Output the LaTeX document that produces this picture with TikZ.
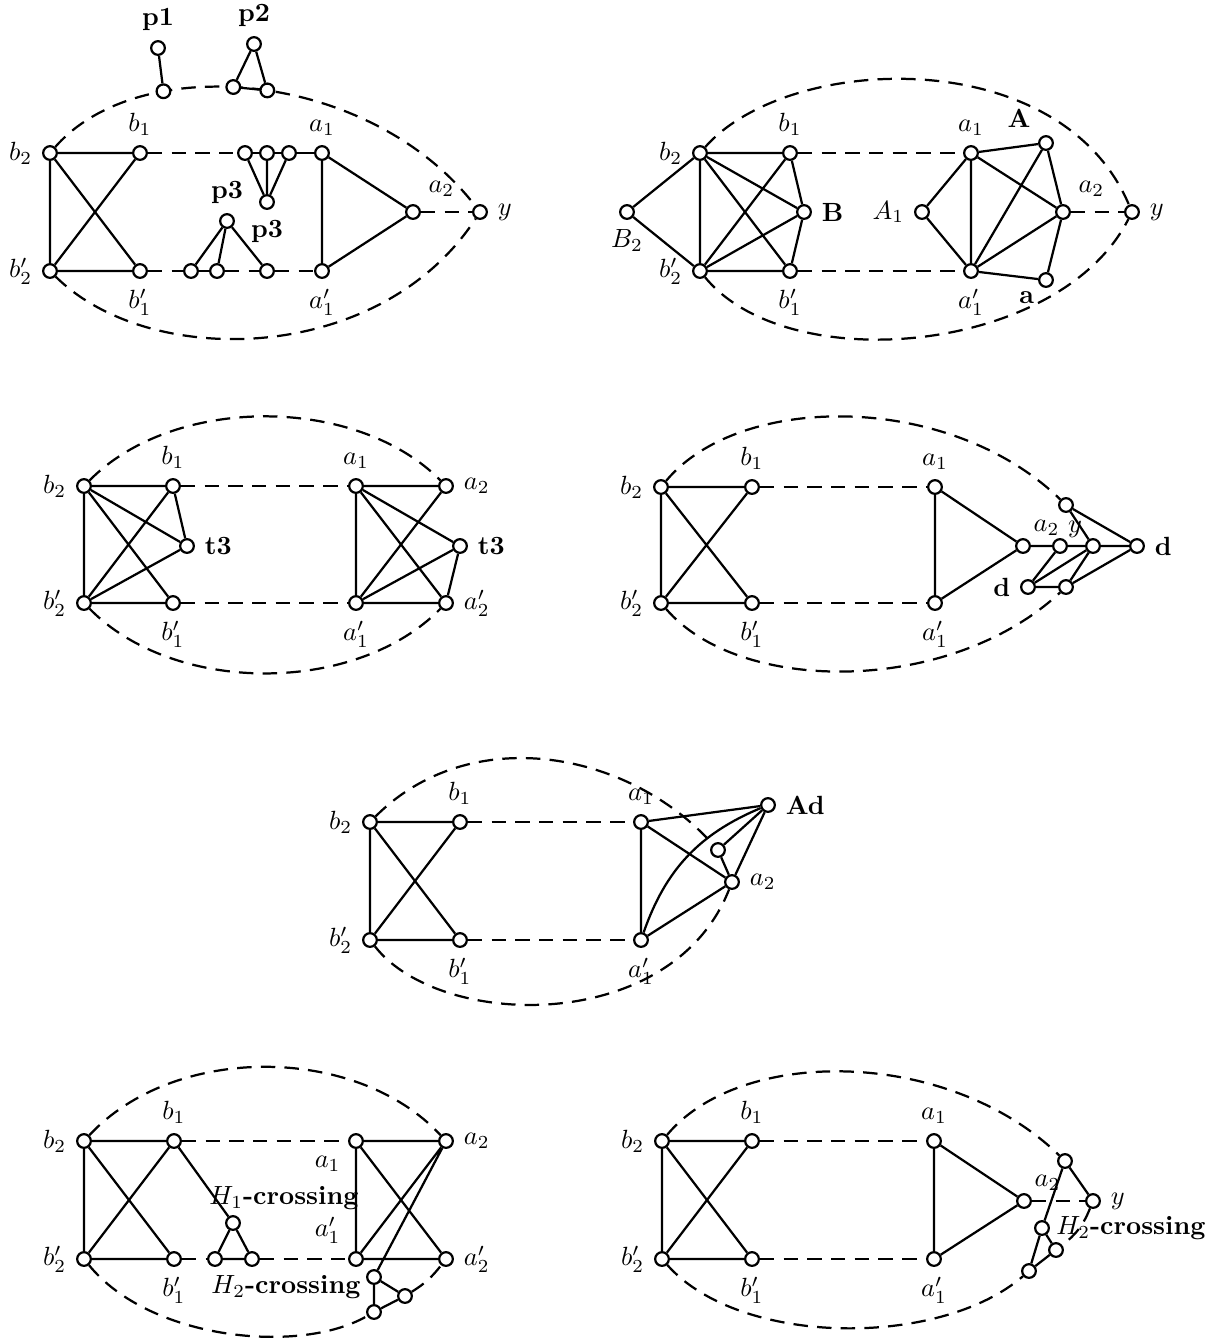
\documentclass[tikz,border=0pt]{standalone}
\begin{document}
\begin{tikzpicture}[x=0.38pt,y=0.38pt,line width=0.85pt,
  v/.style={circle,draw,solid,fill=white,inner sep=0pt,minimum size=5.2pt},
  dsh/.style={dash pattern=on 5.5pt off 3.5pt},
  txt/.style={inner sep=0pt}]
\useasboundingbox (0,0) rectangle (1220,-1338);

% ================= Sub 1 (top left)
\node[v,label=left:$b_2$] (s1b2) at (50,-153) {};
\node[v,label=above:$b_1$] (s1b1) at (140,-153) {};
\node[v,label=left:$b_2'$] (s1b2p) at (50,-271) {};
\node[v,label=below:$b_1'$] (s1b1p) at (140,-271) {};
\node[v] (s1t1) at (245,-153) {};
\node[v] (s1t2) at (267,-153) {};
\node[v] (s1t3) at (289,-153) {};
\node[v,label=below:\textbf{p3}] (s1t4) at (267,-202) {};
\node[v,label=above:$a_1$] (s1a1) at (322,-153) {};
\node[v] (s1u1) at (191,-271) {};
\node[v] (s1u2) at (217,-271) {};
\node[v] (s1u3) at (267,-271) {};
\node[v,label=above:\textbf{p3}] (s1u4) at (227,-221) {};
\node[v,label=below:$a_1'$] (s1a1p) at (322,-271) {};
\node[v,label=above right:$a_2$] (s1a2) at (413,-212) {};
\node[v,label=right:$y$] (s1y) at (480,-212) {};
\node[v,label=above:\textbf{p1}] (s1p1) at (158,-48) {};
\node[v,label=above:\textbf{p2}] (s1p2) at (254,-44) {};
\draw[dsh] (s1b2) .. controls +(90,103) and +(-110,142) .. (s1y)
   node[v,pos=0.3] (s1q1) {} node[v,pos=0.45] (s1q2) {} node[v,pos=0.52] (s1q3) {};
\draw[dsh] (s1b2p) .. controls +(100,-99) and +(-100,-153) .. (s1y);
\draw (s1b2) -- (s1b1) (s1b2) -- (s1b2p) (s1b2) -- (s1b1p) (s1b2p) -- (s1b1) (s1b2p) -- (s1b1p);
\draw[dsh] (s1b1) -- (s1t1);
\draw (s1t1) -- (s1t2) (s1t2) -- (s1t3) (s1t3) -- (s1a1);
\draw (s1t1) -- (s1t4) (s1t2) -- (s1t4) (s1t3) -- (s1t4);
\draw[dsh] (s1b1p) -- (s1u1) (s1u2) -- (s1u3) (s1u3) -- (s1a1p);
\draw (s1u1) -- (s1u2);
\draw (s1u4) -- (s1u1) (s1u4) -- (s1u2) (s1u4) -- (s1u3);
\draw (s1a1) -- (s1a1p) (s1a1) -- (s1a2) (s1a1p) -- (s1a2);
\draw[dsh] (s1a2) -- (s1y);
\draw (s1p1) -- (s1q1) (s1p2) -- (s1q2) (s1p2) -- (s1q3) (s1q2) -- (s1q3);

% ================= Sub 2 (top right)
\node[v,label=below:$B_2$] (s2B2) at (627,-212) {};
\node[v,label=left:$b_2$] (s2b2) at (700,-153) {};
\node[v,label=above:$b_1$] (s2b1) at (790,-153) {};
\node[v,label=right:\textbf{B}] (s2B) at (804,-212) {};
\node[v,label=left:$b_2'$] (s2b2p) at (700,-271) {};
\node[v,label=below:$b_1'$] (s2b1p) at (790,-271) {};
\node[v,label=left:$A_1$] (s2A1) at (922,-212) {};
\node[v,label=above:$a_1$] (s2a1) at (971,-153) {};
\node[v,label=above left:\textbf{A}] (s2A) at (1046,-143) {};
\node[v,label=above right:$a_2$] (s2a2) at (1063,-212) {};
\node[v,label={[inner sep=2pt]below left:\textbf{a}}] (s2a) at (1046,-280) {};
\node[v,label=below:$a_1'$] (s2a1p) at (971,-271) {};
\node[v,label=right:$y$] (s2y) at (1132,-212) {};
\draw[dsh] (s2b2) .. controls +(88,100) and +(-72,170) .. (s2y);
\draw[dsh] (s2b2p) .. controls +(88,-108) and +(-72,-142) .. (s2y);
\draw (s2b2) -- (s2b1) (s2b2) -- (s2b2p) (s2b2) -- (s2b1p) (s2b2) -- (s2B)
      (s2b2) -- (s2B2) (s2B2) -- (s2b2p) (s2b2p) -- (s2b1) (s2b2p) -- (s2B)
      (s2b2p) -- (s2b1p) (s2b1) -- (s2B) (s2B) -- (s2b1p);
\draw[dsh] (s2b1) -- (s2a1) (s2b1p) -- (s2a1p);
\draw (s2a1) -- (s2A1) (s2a1) -- (s2a1p) (s2a1) -- (s2A) (s2a1) -- (s2a2)
      (s2a1p) -- (s2A1) (s2a1p) -- (s2A) (s2a1p) -- (s2a2) (s2a1p) -- (s2a)
      (s2A) -- (s2a2) (s2a) -- (s2a2);
\draw[dsh] (s2a2) -- (s2y);

% ================= Sub 3 (middle left)
\node[v,label=left:$b_2$] (s3b2) at (84,-486) {};
\node[v,label=above:$b_1$] (s3b1) at (173,-486) {};
\node[v,label=right:\textbf{t3}] (s3tl) at (187,-546) {};
\node[v,label=left:$b_2'$] (s3b2p) at (84,-603) {};
\node[v,label=below:$b_1'$] (s3b1p) at (173,-603) {};
\node[v,label=above:$a_1$] (s3a1) at (356,-486) {};
\node[v,label=right:$a_2$] (s3a2) at (446,-486) {};
\node[v,label=right:\textbf{t3}] (s3tr) at (460,-546) {};
\node[v,label=below:$a_1'$] (s3a1p) at (356,-603) {};
\node[v,label=right:$a_2'$] (s3a2p) at (446,-603) {};
\draw[dsh] (s3b2) .. controls +(90,91) and +(-90,91) .. (s3a2);
\draw[dsh] (s3b2p) .. controls +(90,-92) and +(-90,-92) .. (s3a2p);
\draw (s3b2) -- (s3b1) (s3b2) -- (s3b2p) (s3b2) -- (s3tl) (s3b2) -- (s3b1p)
      (s3b2p) -- (s3b1) (s3b2p) -- (s3tl) (s3b2p) -- (s3b1p) (s3b1) -- (s3tl);
\draw[dsh] (s3b1) -- (s3a1) (s3b1p) -- (s3a1p);
\draw (s3a1) -- (s3a2) (s3a1) -- (s3a1p) (s3a1) -- (s3tr) (s3a1) -- (s3a2p)
      (s3a1p) -- (s3a2) (s3a1p) -- (s3tr) (s3a1p) -- (s3a2p) (s3tr) -- (s3a2p);

% ================= Sub 4 (middle right)
\node[v,label=left:$b_2$] (s4b2) at (661,-487) {};
\node[v,label=above:$b_1$] (s4b1) at (752,-487) {};
\node[v,label=left:$b_2'$] (s4b2p) at (661,-603) {};
\node[v,label=below:$b_1'$] (s4b1p) at (752,-603) {};
\node[v,label=above:$a_1$] (s4a1) at (935,-487) {};
\node[v,label=below:$a_1'$] (s4a1p) at (935,-603) {};
\node[v,label={[inner sep=1.5pt]above right:$a_2$}] (s4a2) at (1023,-546) {};
\node[v,label={[inner sep=0.5pt]above right:$y$}] (s4y) at (1060,-546) {};
\node[v] (s4top) at (1066,-505) {};
\node[v] (s4mid) at (1093,-546) {};
\node[v,label=right:\textbf{d}] (s4dR) at (1137,-546) {};
\node[v,label=left:\textbf{d}] (s4dL) at (1028,-587) {};
\node[v] (s4bot) at (1066,-587) {};
\draw[dsh] (s4b2) .. controls +(79,95) and +(-116,113) .. (s4top);
\draw[dsh] (s4b2p) .. controls +(79,-92) and +(-116,-108) .. (s4bot);
\draw (s4b2) -- (s4b1) (s4b2) -- (s4b2p) (s4b2) -- (s4b1p) (s4b2p) -- (s4b1) (s4b2p) -- (s4b1p);
\draw[dsh] (s4b1) -- (s4a1) (s4b1p) -- (s4a1p);
\draw (s4a1) -- (s4a1p) (s4a1) -- (s4a2) (s4a1p) -- (s4a2);
\draw (s4a2) -- (s4y) (s4y) -- (s4mid) (s4mid) -- (s4dR) (s4top) -- (s4mid) (s4top) -- (s4dR)
      (s4y) -- (s4dL) (s4dL) -- (s4mid) (s4dL) -- (s4bot) (s4bot) -- (s4mid) (s4bot) -- (s4dR);

% ================= Sub 5 (center)
\node[v,label=left:$b_2$] (s5b2) at (370,-822) {};
\node[v,label=above:$b_1$] (s5b1) at (460,-822) {};
\node[v,label=left:$b_2'$] (s5b2p) at (370,-940) {};
\node[v,label=below:$b_1'$] (s5b1p) at (460,-940) {};
\node[v,label=above:$a_1$] (s5a1) at (641,-822) {};
\node[v,label=below:$a_1'$] (s5a1p) at (641,-940) {};
\node[v,label=right:\textbf{Ad}] (s5Ad) at (768,-805) {};
\node[v] (s5sm) at (718,-850) {};
\node[v,label=right:$a_2$] (s5a2) at (732,-882) {};
\draw[dsh] (s5b2) .. controls +(100,100) and +(-90,100) .. (s5sm);
\draw[dsh] (s5b2p) .. controls +(70,-90) and +(-60,-153) .. (s5a2);
\draw (s5b2) -- (s5b1) (s5b2) -- (s5b2p) (s5b2) -- (s5b1p) (s5b2p) -- (s5b1) (s5b2p) -- (s5b1p);
\draw[dsh] (s5b1) -- (s5a1) (s5b1p) -- (s5a1p);
\draw (s5a1) -- (s5Ad) (s5a1) -- (s5a1p) (s5a1) -- (s5a2) (s5a1p) -- (s5a2)
      (s5sm) -- (s5Ad) (s5sm) -- (s5a2) (s5a2) -- (s5Ad);
\draw (s5a1p) to[bend left=24] (s5Ad);

% ================= Sub 6 (bottom left)
\node[v,label=left:$b_2$] (s6b2) at (84,-1141) {};
\node[v,label=above:$b_1$] (s6b1) at (174,-1141) {};
\node[v,label=left:$b_2'$] (s6b2p) at (84,-1259) {};
\node[v,label=below:$b_1'$] (s6b1p) at (174,-1259) {};
\node[v] (s6tt) at (233,-1223) {};
\node[v] (s6tl) at (215,-1259) {};
\node[v] (s6tr) at (252,-1259) {};
\node[v,label=below left:$a_1$] (s6a1) at (356,-1141) {};
\node[v,label=right:$a_2$] (s6a2) at (446,-1141) {};
\node[v,label=above left:$a_1'$] (s6a1p) at (356,-1259) {};
\node[v,label=right:$a_2'$] (s6a2p) at (446,-1259) {};
\node[v] (s6bt) at (374,-1277) {};
\node[v] (s6br) at (405,-1296) {};
\node[v] (s6bb) at (374,-1312) {};
\node[txt] (s6h1) at (284,-1198) {$H_1$\textbf{-crossing}};
\node[txt] (s6h2) at (286,-1287) {$H_2$\textbf{-crossing}};
\draw[dsh] (s6b2) .. controls +(90,97) and +(-90,97) .. (s6a2);
\draw[dsh] (s6b2p) .. controls +(66,-81) and +(-74,-43) .. (s6bb);
\draw[dsh] (s6br) to[bend right=10] (s6a2p);
\draw (s6b2) -- (s6b1) (s6b2) -- (s6b2p) (s6b2) -- (s6b1p) (s6b2p) -- (s6b1) (s6b2p) -- (s6b1p);
\draw (s6b1) -- (s6tt) (s6tt) -- (s6tl) (s6tt) -- (s6tr) (s6tl) -- (s6tr);
\draw[dsh] (s6b1) -- (s6a1) (s6b1p) -- (s6tl) (s6tr) -- (s6a1p);
\draw (s6a1) -- (s6a2) (s6a1) -- (s6a1p) (s6a1) -- (s6a2p) (s6a1p) -- (s6a2)
      (s6a1p) -- (s6a2p) (s6a2) -- (s6bt);
\draw (s6bt) -- (s6br) (s6bt) -- (s6bb) (s6bb) -- (s6br);

% ================= Sub 7 (bottom right)
\node[v,label=left:$b_2$] (s7b2) at (662,-1141) {};
\node[v,label=above:$b_1$] (s7b1) at (752,-1141) {};
\node[v,label=left:$b_2'$] (s7b2p) at (662,-1259) {};
\node[v,label=below:$b_1'$] (s7b1p) at (752,-1259) {};
\node[v,label=above:$a_1$] (s7a1) at (934,-1141) {};
\node[v,label=below:$a_1'$] (s7a1p) at (934,-1259) {};
\node[v,label={[inner sep=1.5pt]above right:$a_2$}] (s7a2) at (1024,-1201) {};
\node[v,label=right:$y$] (s7y) at (1093,-1201) {};
\node[v] (s7top) at (1065,-1161) {};
\node[v] (s7ml) at (1042,-1228) {};
\node[v] (s7mr) at (1056,-1250) {};
\node[v] (s7bot) at (1029,-1271) {};
\node[txt] (s7h2) at (1131,-1228) {$H_2$\textbf{-crossing}};
\draw[dsh] (s7b2) .. controls +(79,95) and +(-116,113) .. (s7top);
\draw[dsh] (s7b2p) .. controls +(78,-88) and +(-89,-77) .. (s7bot);
\draw[dsh] (s7y) to[bend left=15] (s7mr);
\draw (s7b2) -- (s7b1) (s7b2) -- (s7b2p) (s7b2) -- (s7b1p) (s7b2p) -- (s7b1) (s7b2p) -- (s7b1p);
\draw[dsh] (s7b1) -- (s7a1) (s7b1p) -- (s7a1p);
\draw (s7a1) -- (s7a1p) (s7a1) -- (s7a2) (s7a1p) -- (s7a2);
\draw[dsh] (s7a2) -- (s7y);
\draw (s7top) -- (s7y) (s7top) -- (s7ml) (s7ml) -- (s7mr) (s7ml) -- (s7bot) (s7bot) -- (s7mr);
\end{tikzpicture}
\end{document}
